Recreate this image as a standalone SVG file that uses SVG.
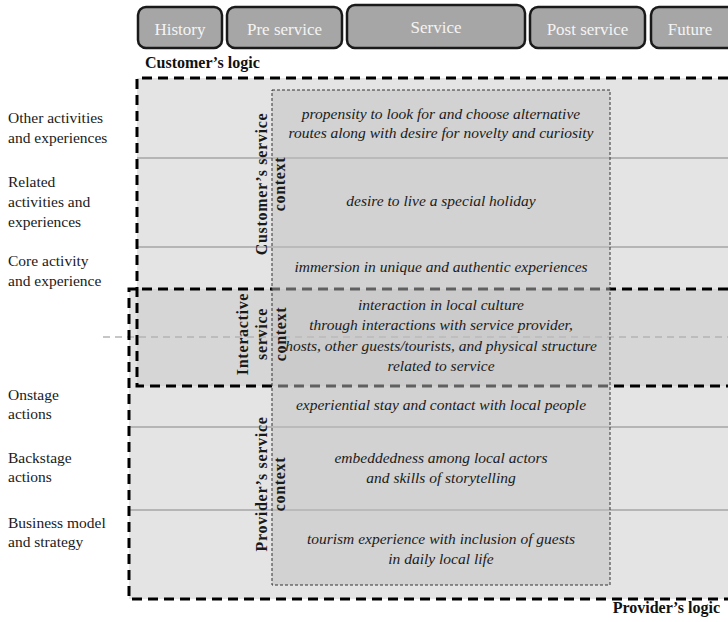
<svg xmlns="http://www.w3.org/2000/svg" width="728" height="622" viewBox="0 0 728 622">
<style>
.hdr rect{fill:#a6a6a6;stroke:#1a1a1a;stroke-width:2.5}
.hdr text{font-family:"Liberation Serif","Times New Roman",serif;font-size:17px;fill:#f4f4f4;text-anchor:middle}
.lbl{font-family:"Liberation Serif","Times New Roman",serif;font-size:15.5px;fill:#1a1a1a}
.ctx{font-family:"Liberation Serif","Times New Roman",serif;font-size:15.5px;font-style:italic;fill:#1a1a1a;text-anchor:middle}
.rot{font-family:"Liberation Serif","Times New Roman",serif;font-size:16px;font-weight:bold;fill:#1a1a1a;text-anchor:middle;letter-spacing:0.7px}
.logic{font-family:"Liberation Serif","Times New Roman",serif;font-size:16px;font-weight:bold;fill:#111}
.bd{stroke:#000;stroke-width:3;stroke-dasharray:10 6;fill:none}
.gl{stroke:#a6a6a6;stroke-width:1.5;fill:none}
</style>
<rect width="728" height="622" fill="#ffffff"/>

<g id="headers">
<g id="h-history" class="hdr"><rect x="138" y="7" width="84" height="41" rx="8"/><text x="180" y="35">History</text></g>
<g id="h-pre" class="hdr"><rect x="227" y="7" width="115" height="41" rx="8"/><text x="284.5" y="35">Pre service</text></g>
<g id="h-service" class="hdr"><rect x="347" y="5" width="178" height="43" rx="8"/><text x="436" y="33">Service</text></g>
<g id="h-post" class="hdr"><rect x="530" y="7" width="115" height="41" rx="8"/><text x="587.5" y="35">Post service</text></g>
<g id="h-future" class="hdr"><rect x="651" y="7" width="95" height="41" rx="8"/><text x="690" y="35">Future</text></g>
</g>

<g id="areas">
<rect x="129" y="289" width="610" height="310" fill="#e4e4e4"/>
<rect x="137" y="78" width="600" height="308" fill="#e4e4e4"/>
<rect x="137" y="289" width="600" height="97" fill="#d6d6d6"/>
<line class="gl" x1="137" y1="158" x2="728" y2="158"/>
<line class="gl" x1="137" y1="247" x2="728" y2="247"/>
<line class="gl" x1="129" y1="427" x2="728" y2="427"/>
<line class="gl" x1="129" y1="510" x2="728" y2="510"/>
<line x1="103" y1="337" x2="728" y2="337" stroke="#b4b4b4" stroke-width="1.5" stroke-dasharray="7 5"/>
</g>

<g id="connectors">
<path class="bd" d="M728,78 H137 V386 H728"/>
<path class="bd" d="M728,289 H129 V599 H728"/>
</g>

<g id="central-box">
<rect x="272" y="90" width="338" height="495" fill="#c0c0c0" fill-opacity="0.5" stroke="#333" stroke-width="1" stroke-dasharray="3 2"/>
</g>

<g id="left-labels">
<text class="lbl" x="8" y="123">Other activities</text>
<text class="lbl" x="8" y="143">and experiences</text>
<text class="lbl" x="8" y="187">Related</text>
<text class="lbl" x="8" y="207">activities  and</text>
<text class="lbl" x="8" y="227">experiences</text>
<text class="lbl" x="8" y="266">Core activity</text>
<text class="lbl" x="8" y="286">and experience</text>
<text class="lbl" x="8" y="400">Onstage</text>
<text class="lbl" x="8" y="419">actions</text>
<text class="lbl" x="8" y="463">Backstage</text>
<text class="lbl" x="8" y="482">actions</text>
<text class="lbl" x="8" y="528">Business model</text>
<text class="lbl" x="8" y="547">and strategy</text>
</g>

<g id="customer-context">
<text class="rot" transform="translate(267,184) rotate(-90)">Customer’s service</text>
<text class="rot" transform="translate(285,184) rotate(-90)">context</text>
<text class="ctx" x="441" y="119">propensity to look for and choose alternative</text>
<text class="ctx" x="441" y="138">routes along with desire for novelty and curiosity</text>
<text class="ctx" x="441" y="206">desire to live a special holiday</text>
<text class="ctx" x="441" y="272">immersion in unique and authentic experiences</text>
</g>

<g id="interactive-context">
<text class="rot" transform="translate(248,334) rotate(-90)">Interactive</text>
<text class="rot" transform="translate(267,334) rotate(-90)">service</text>
<text class="rot" transform="translate(286,334) rotate(-90)">context</text>
<text class="ctx" x="441" y="310">interaction in local culture</text>
<text class="ctx" x="441" y="330">through interactions with service provider,</text>
<text class="ctx" x="441" y="351">hosts, other guests/tourists, and physical structure</text>
<text class="ctx" x="441" y="371">related to service</text>
</g>

<g id="provider-context">
<text class="rot" transform="translate(267,484) rotate(-90)">Provider’s service</text>
<text class="rot" transform="translate(285,484) rotate(-90)">context</text>
<text class="ctx" x="441" y="410">experiential stay and contact with local people</text>
<text class="ctx" x="441" y="463">embeddedness among local actors</text>
<text class="ctx" x="441" y="483">and skills of storytelling</text>
<text class="ctx" x="441" y="544">tourism experience with inclusion of guests</text>
<text class="ctx" x="441" y="564">in daily local life</text>
</g>

<g id="logic-labels">
<text class="logic" x="145" y="68">Customer’s logic</text>
<text class="logic" x="720" y="613" text-anchor="end">Provider’s logic</text>
</g>
</svg>
